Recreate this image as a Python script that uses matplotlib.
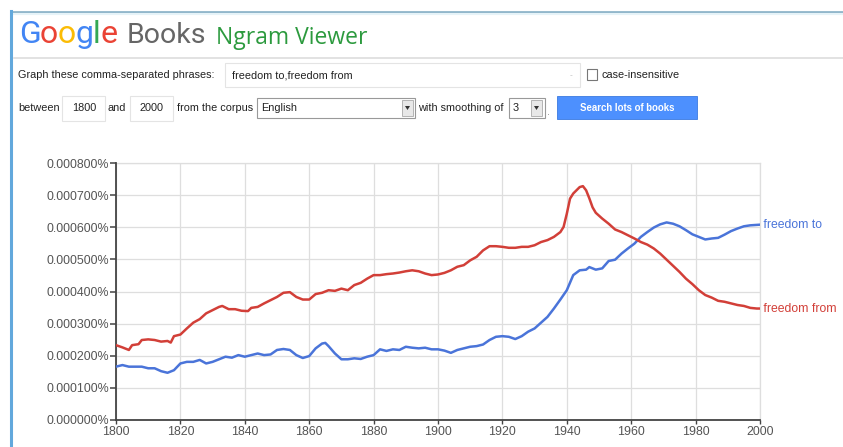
import matplotlib
matplotlib.use("Agg")
import matplotlib.pyplot as plt
from matplotlib.patches import Rectangle, Polygon
from matplotlib.lines import Line2D
from matplotlib.ticker import FuncFormatter

# ---------------- data (values in percent) ----------------
from_years = [1800,1802,1804,1805,1807,1808,1810,1812,1814,1816,
              1817,1818,1820,1822,1824,1826,1828,1830,1832,1833,
              1835,1837,1839,1841,1842,1844,1846,1848,1850,1852,
              1854,1856,1858,1860,1862,1864,1866,1868,1870,1872,
              1874,1876,1878,1880,1882,1884,1886,1888,1890,1892,
              1894,1896,1898,1900,1902,1904,1906,1908,1910,1912,
              1914,1916,1918,1920,1922,1924,1926,1928,1930,1932,
              1934,1936,1938,1939,1940,1941,1942,1944,1945,1946,
              1947,1948,1949,1951,1953,1955,1957,1959,1961,1963,
              1965,1967,1969,1971,1973,1975,1977,1979,1981,1983,
              1985,1987,1989,1991,1993,1995,1997,1999,2000]
from_vals_e4 = [2.33,2.26,2.18,2.33,2.36,2.49,2.51,2.49,2.44,2.46,
                2.41,2.61,2.66,2.85,3.03,3.14,3.32,3.42,3.52,3.55,
                3.45,3.45,3.40,3.39,3.49,3.52,3.63,3.73,3.83,3.96,
                3.98,3.83,3.75,3.75,3.92,3.96,4.04,4.02,4.09,4.04,
                4.20,4.27,4.40,4.51,4.51,4.54,4.56,4.59,4.63,4.66,
                4.63,4.56,4.51,4.53,4.58,4.66,4.77,4.82,4.97,5.08,
                5.28,5.41,5.41,5.39,5.36,5.36,5.39,5.39,5.44,5.54,
                5.60,5.70,5.85,6.01,6.42,6.89,7.05,7.25,7.28,7.15,
                6.90,6.62,6.45,6.27,6.11,5.93,5.85,5.75,5.65,5.54,
                5.46,5.34,5.18,4.99,4.80,4.61,4.40,4.23,4.04,3.89,
                3.81,3.71,3.68,3.63,3.58,3.55,3.49,3.47,3.47]

to_years = [1800,1802,1804,1806,1808,1810,1812,1814,1816,1818,
            1820,1822,1824,1826,1828,1830,1832,1834,1836,1838,
            1840,1842,1844,1846,1848,1850,1852,1854,1856,1858,
            1860,1862,1864,1865,1866,1868,1870,1872,1874,1876,
            1878,1880,1882,1884,1886,1888,1890,1892,1894,1896,
            1898,1900,1902,1904,1906,1908,1910,1912,1914,1916,
            1918,1920,1922,1924,1926,1928,1930,1932,1934,1936,
            1938,1940,1942,1944,1946,1947,1949,1951,1953,1955,
            1957,1959,1961,1963,1965,1967,1969,1971,1973,1975,
            1977,1979,1981,1983,1985,1987,1989,1991,1993,1995,
            1997,2000]
to_vals_e4 = [1.66,1.71,1.66,1.66,1.66,1.61,1.61,1.52,1.47,1.55,
              1.76,1.81,1.81,1.87,1.76,1.81,1.89,1.97,1.94,2.02,
              1.97,2.02,2.07,2.02,2.04,2.18,2.21,2.18,2.02,1.93,
              1.99,2.23,2.38,2.40,2.30,2.07,1.89,1.89,1.92,1.90,
              1.97,2.02,2.20,2.15,2.20,2.18,2.28,2.25,2.23,2.25,
              2.20,2.20,2.16,2.09,2.18,2.23,2.28,2.30,2.35,2.49,
              2.59,2.61,2.59,2.52,2.61,2.75,2.85,3.03,3.21,3.47,
              3.75,4.04,4.51,4.66,4.68,4.76,4.68,4.72,4.95,4.99,
              5.18,5.34,5.49,5.70,5.85,5.99,6.09,6.15,6.11,6.03,
              5.91,5.78,5.70,5.62,5.65,5.67,5.77,5.88,5.96,6.03,
              6.06,6.08]

series_labels = ["freedom to", "freedom from"]
x_ticks = [1800, 1820, 1840, 1860, 1880, 1900, 1920, 1940, 1960, 1980, 2000]
y_ticks = [0.0, 0.0001, 0.0002, 0.0003, 0.0004, 0.0005, 0.0006, 0.0007, 0.0008]

from_vals = [v * 1e-4 for v in from_vals_e4]
to_vals = [v * 1e-4 for v in to_vals_e4]

# ---------------- figure ----------------
W, H = 843, 447
fig = plt.figure(figsize=(W / 100, H / 100), dpi=100)
fig.patch.set_facecolor("white")

UI = ["Liberation Sans", "DejaVu Sans"]
BLUE = "#4a74d9"
RED = "#d23f38"
UIS = 7.8


def fx(px):
    return px / W


def fy(py):
    return 1 - py / H


def rect(x0, y0, x1, y1, fc="white", ec="#cccccc", lw=0.8, z=1):
    fig.add_artist(Rectangle((fx(x0), fy(y1)), (x1 - x0) / W, (y1 - y0) / H,
                             transform=fig.transFigure, facecolor=fc,
                             edgecolor=ec, linewidth=lw, zorder=z))


def hline(x0, x1, y, c, lw):
    fig.add_artist(Line2D([fx(x0), fx(x1)], [fy(y), fy(y)], transform=fig.transFigure,
                          color=c, linewidth=lw))


def vline(x, y0, y1, c, lw):
    fig.add_artist(Line2D([fx(x), fx(x)], [fy(y0), fy(y1)], transform=fig.transFigure,
                          color=c, linewidth=lw))


def txt(x, y, s, size=UIS, color="#222222", ha="left", va="center", **kw):
    return fig.text(fx(x), fy(y), s, fontsize=size, color=color, ha=ha, va=va,
                    family=UI, **kw)


# frame borders
hline(11, W, 12, "#8fb5ca", 2.0)
hline(12, W, 14, "#e6f3f8", 1.5)
vline(11, 11, H, "#62a8dc", 2.2)
hline(14, W, 58, "#dddddd", 1.2)

# Google logo (letter by letter)
renderer = fig.canvas.get_renderer()
google_colors = ["#4285F4", "#EA4335", "#FBBC05", "#4285F4", "#34A853", "#EA4335"]
x = 19.0
for ch, col in zip("Google", google_colors):
    t = fig.text(fx(x), fy(43), ch, fontsize=23, color=col, family="Roboto",
                 ha="left", va="baseline")
    bb = t.get_window_extent(renderer=renderer)
    x += bb.width * 0.97
fig.text(fx(127), fy(43), "Books", fontsize=20.5, color="#666666", family="Roboto",
         ha="left", va="baseline")
fig.text(fx(216), fy(44), "Ngram Viewer", fontsize=16.5, color="#2c9a3e",
         family="Open Sans", ha="left", va="baseline")

# row 1
txt(18, 75, "Graph these comma-separated phrases:")
rect(225, 63, 580, 87, ec="#e4e4e4")
txt(232, 75, "freedom to,freedom from")
txt(570, 76, "-", size=6, color="#bbbbbb")
rect(587, 69, 597, 80, ec="#777777", lw=0.8)
txt(601, 75, "case-insensitive")

# row 2
ry = 108
txt(18, ry, "between")
rect(62, 96, 105, 121, ec="#e4e4e4")
txt(84, ry, "1800", ha="center")
txt(108, ry, "and")
rect(130, 96, 173, 121, ec="#e4e4e4")
txt(151, ry, "2000", ha="center")
txt(177, ry, "from the corpus")
rect(257, 98, 415, 118, ec="#999999")
txt(261, ry, "English")
rect(402, 100, 413, 116, fc="#e8e8e8", ec="#aaaaaa", lw=0.6, z=2)
fig.add_artist(Polygon([[fx(405), fy(106)], [fx(410), fy(106)], [fx(407.5), fy(110)]],
                       closed=True, transform=fig.transFigure, fc="#333333", ec="none", zorder=3))
txt(418, ry, "with smoothing of")
rect(509, 98, 545, 118, ec="#999999")
txt(513, ry, "3")
rect(531, 100, 542, 116, fc="#e8e8e8", ec="#aaaaaa", lw=0.6, z=2)
fig.add_artist(Polygon([[fx(534), fy(106)], [fx(539), fy(106)], [fx(536.5), fy(110)]],
                       closed=True, transform=fig.transFigure, fc="#333333", ec="none", zorder=3))
txt(547, 112, ".", color="#888888")
rect(557, 96, 697, 119, fc="#4d90fe", ec="#3b7ae0", lw=0.6)
txt(627, 108, "Search lots of books", size=6.9, color="white", ha="center", fontweight="bold")

# ---------------- chart ----------------
ax = fig.add_axes([fx(116), fy(420), (760 - 116) / W, (420 - 163) / H])
ax.set_facecolor("none")
ax.plot(to_years, to_vals, color=BLUE, linewidth=1.8, solid_capstyle="round", zorder=3)
ax.plot(from_years, from_vals, color=RED, linewidth=1.8, solid_capstyle="round", zorder=3)
ax.set_xlim(1800, 2000)
ax.set_ylim(0, 0.0008)
ax.set_xticks(x_ticks)
ax.set_yticks(y_ticks)
ax.yaxis.set_major_formatter(FuncFormatter(lambda v, p: f"{v:.6f}%"))
for s in ("top", "right"):
    ax.spines[s].set_visible(False)
for s in ("left", "bottom"):
    ax.spines[s].set_color("#444444")
    ax.spines[s].set_linewidth(1.3)
ax.grid(True, color="#dedede", linewidth=0.9, zorder=0)
ax.set_axisbelow(True)
ax.tick_params(axis="y", direction="out", length=4, width=1.1, color="#444444",
               labelsize=8.9, labelcolor="#555555", pad=1)
ax.tick_params(axis="x", direction="out", length=3, width=1.0, color="#444444",
               labelsize=8.9, labelcolor="#555555", pad=1)
for lab in ax.get_xticklabels() + ax.get_yticklabels():
    lab.set_family(UI)
ax.axvline(2000, color="#dedede", linewidth=0.9, zorder=0, clip_on=False)
ax.axhline(0.0008, color="#dedede", linewidth=0.9, zorder=0, clip_on=False)

# end labels
ax.text(2000, to_vals[-1], " " + series_labels[0], color=BLUE, fontsize=8.8,
        family=UI, ha="left", va="center", clip_on=False)
ax.text(2000, from_vals[-1], " " + series_labels[1], color=RED, fontsize=8.8,
        family=UI, ha="left", va="center", clip_on=False)

fig.savefig("out.png", dpi=100, facecolor="white")
